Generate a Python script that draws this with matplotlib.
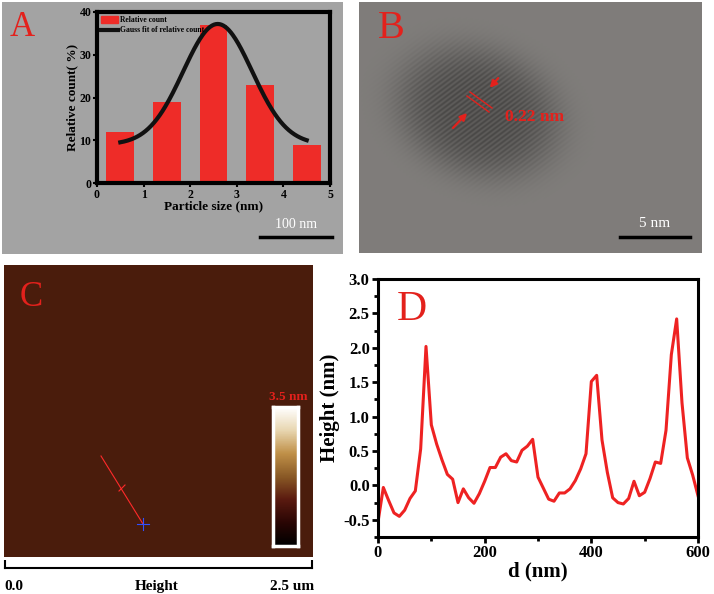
import numpy as np
import matplotlib
matplotlib.use("Agg")
import matplotlib.pyplot as plt
from matplotlib import rc
from matplotlib.colors import LinearSegmentedColormap
from matplotlib.lines import Line2D
from matplotlib.patches import Patch

rc('font', family='Liberation Serif', weight='bold')
rc('axes', labelweight='bold')

W, H = 714, 594

# panel A: particle size histogram
size_centers = [0.5, 1.5, 2.5, 3.5, 4.5]
rel_count = [12, 19, 37, 23, 9]
# Gauss fit parameters (y0, amplitude, centre, sigma)
gauss_y0, gauss_amp, gauss_xc, gauss_sigma = 9.0, 28.2, 2.59, 0.74

# panel D: AFM height profile
d_nm = [0, 10, 20, 30, 40, 50, 60, 70, 80, 90, 100, 110, 120, 130, 140, 150,
        160, 170, 180, 190, 200, 210, 220, 230, 240, 250, 260, 270, 280, 290,
        300, 310, 320, 330, 340, 350, 360, 370, 380, 390, 400, 410, 420, 430,
        440, 450, 460, 470, 480, 490, 500, 510, 520, 530, 540, 550, 560, 570,
        580, 590, 600]
height_nm = [-0.53, -0.03, -0.22, -0.40, -0.45, -0.36, -0.19, -0.08, 0.53, 2.02,
             0.88, 0.60, 0.37, 0.16, 0.09, -0.25, -0.05, -0.18, -0.26, -0.12,
             0.06, 0.26, 0.26, 0.41, 0.46, 0.36, 0.34, 0.51, 0.57, 0.67,
             0.12, -0.04, -0.20, -0.23, -0.11, -0.11, -0.05, 0.07, 0.24, 0.46,
             1.51, 1.60, 0.66, 0.19, -0.18, -0.25, -0.27, -0.19, 0.06, -0.15,
             -0.10, 0.10, 0.34, 0.32, 0.80, 1.90, 2.42, 1.20, 0.40, 0.15, -0.15]


def box(x0, y0, x1, y1):
    # pixel box (top-left origin) -> figure fraction rect
    return [x0 / W, 1 - y1 / H, (x1 - x0) / W, (y1 - y0) / H]


def image_axes(x0, y0, x1, y1):
    a = fig.add_axes(box(x0, y0, x1, y1))
    a.set_xlim(x0, x1)
    a.set_ylim(y1, y0)
    a.set_xticks([])
    a.set_yticks([])
    for s in a.spines.values():
        s.set_visible(False)
    return a


fig = plt.figure(figsize=(W / 100, H / 100), dpi=100)

# ---------------- A: TEM background + histogram inset ----------------
axA = image_axes(2, 2, 343, 254)
axA.set_facecolor('#a3a3a3')
axA.text(10, 36, 'A', color='#e3211c', fontsize=25, weight='normal')
axA.plot([260, 332], [237, 237], color='black', lw=2.5)
axA.text(296, 228, '100 nm', color='white', fontsize=10, weight='normal', ha='center')

axH = fig.add_axes(box(97, 12, 330, 183))
axH.patch.set_alpha(0)
axH.bar(size_centers, rel_count, width=0.6, color='#ee2c28', zorder=2)
xg = np.linspace(size_centers[0], size_centers[-1], 200)
yg = gauss_y0 + gauss_amp * np.exp(-(xg - gauss_xc) ** 2 / (2 * gauss_sigma ** 2))
axH.plot(xg, yg, color='#111111', lw=3, zorder=3)
axH.set_xlim(0, 5)
axH.set_ylim(0, 40)
axH.set_xticks(range(0, 6))
axH.set_yticks(range(0, 41, 10))
for s in axH.spines.values():
    s.set_linewidth(3)
axH.tick_params(labelsize=8.5, width=1.5, length=3, pad=1)
axH.set_xlabel('Particle size (nm)', fontsize=9.5, labelpad=0)
axH.set_ylabel('Relative count( %)', fontsize=9.5, labelpad=1)
handles = [Patch(color='#ee2c28'), Line2D([], [], color='#111111', lw=3)]
axH.legend(handles, ['Relative count', 'Gauss fit of relative count'],
           loc='upper left', fontsize=5.5, frameon=False, handlelength=2.2,
           handleheight=0.9, borderaxespad=0.15, labelspacing=0.3, handletextpad=0.3)

# ---------------- B: HRTEM ----------------
axB = image_axes(359, 2, 702, 253)
gx, gy = np.meshgrid(np.linspace(359, 702, 343), np.linspace(2, 253, 251))
ang = np.deg2rad(-20)
u = (gx - 478) * np.cos(ang) - (gy - 112) * np.sin(ang)
v = (gx - 478) * np.sin(ang) + (gy - 112) * np.cos(ang)
blob = np.exp(-((u / 82) ** 2 + (v / 62) ** 2) ** 2)
fringes = 0.04 * np.sin((gx * 0.6 + gy * 0.8) * 1.6) * blob
gray = 0.49 - 0.17 * blob + fringes
rgb = np.dstack([gray * 1.02, gray, gray * 0.98]).clip(0, 1)
axB.imshow(rgb, extent=(359, 702, 253, 2), aspect='auto', interpolation='bilinear')
axB.set_xlim(359, 702)
axB.set_ylim(253, 2)
axB.text(378, 38, 'B', color='#e3211c', fontsize=29, weight='normal')
axB.annotate('', xy=(469, 111), xytext=(451, 130),
             arrowprops=dict(arrowstyle='-|>', color='#e3211c', lw=1.6, mutation_scale=10))
axB.annotate('', xy=(488, 90), xytext=(500, 76),
             arrowprops=dict(arrowstyle='-|>', color='#e3211c', lw=1.6, mutation_scale=10))
axB.plot([467, 489], [96, 112], color='#e3211c', lw=1)
axB.plot([470, 492], [92, 108], color='#e3211c', lw=1)
axB.text(505, 121, '0.22 nm', color='#e3211c', fontsize=12.5)
axB.plot([620, 690], [237, 237], color='black', lw=2.5)
axB.text(655, 227, '5 nm', color='white', fontsize=11, weight='normal', ha='center')

# ---------------- C: AFM ----------------
axC = image_axes(4, 265, 313, 557)
axC.set_facecolor('#4a1c0c')
axC.text(20, 306, 'C', color='#e3211c', fontsize=25, weight='normal')
axC.plot([101, 143], [456, 524], color='#ff2a2a', lw=0.8)
axC.plot([119, 125], [491, 485], color='#ff2a2a', lw=0.8)
axC.plot([137, 149], [524, 524], color='#3050ff', lw=0.8)
axC.plot([143, 143], [518, 530], color='#3050ff', lw=0.8)
axC.text(288, 400, '3.5 nm', color='#e3211c', fontsize=9.5, ha='center')

afm_cmap = LinearSegmentedColormap.from_list(
    'afm', ['#000000', '#2a0604', '#5a1a10', '#8a5a26', '#c09048', '#e8d6b0', '#ffffff'])
axCb = fig.add_axes(box(273, 407, 298, 546))
axCb.imshow(np.linspace(1, 0, 200)[:, None], cmap=afm_cmap, aspect='auto',
            extent=(0, 1, 0, 1))
axCb.set_xticks([])
axCb.set_yticks([])
for s in axCb.spines.values():
    s.set_color('white')
    s.set_linewidth(2.5)

# scale line under the AFM image
axS = image_axes(0, 560, 320, 594)
axS.plot([5, 312], [568, 568], color='black', lw=1.5)
axS.plot([5, 5], [568, 561], color='black', lw=1.5)
axS.plot([312, 312], [568, 561], color='black', lw=1.5)
axS.text(4, 590, '0.0', fontsize=11, ha='left')
axS.text(157, 590, 'Height', fontsize=11, ha='center')
axS.text(314, 590, '2.5 um', fontsize=11, ha='right')

# ---------------- D: height profile ----------------
axD = fig.add_axes(box(378, 279, 698, 537))
axD.plot(d_nm, height_nm, color='#ee2222', lw=2.2)
axD.set_xlim(0, 600)
axD.set_ylim(-0.75, 3.0)
axD.set_xticks([0, 200, 400, 600])
axD.set_xticks([100, 300, 500], minor=True)
axD.set_yticks(np.arange(-0.5, 3.01, 0.5))
axD.set_yticks(np.arange(-0.75, 3.01, 0.25), minor=True)
axD.yaxis.set_major_formatter(matplotlib.ticker.FormatStrFormatter('%.1f'))
for s in axD.spines.values():
    s.set_linewidth(2.2)
axD.tick_params(which='major', labelsize=12, width=2, length=4, pad=2)
axD.tick_params(which='minor', width=2, length=3)
axD.set_xlabel('d (nm)', fontsize=15, labelpad=0)
axD.set_ylabel('Height (nm)', fontsize=15, labelpad=2)
axD.text(0.06, 0.84, 'D', transform=axD.transAxes, color='#e3211c',
         fontsize=30, weight='normal')

plt.savefig('out.png', dpi=100)
